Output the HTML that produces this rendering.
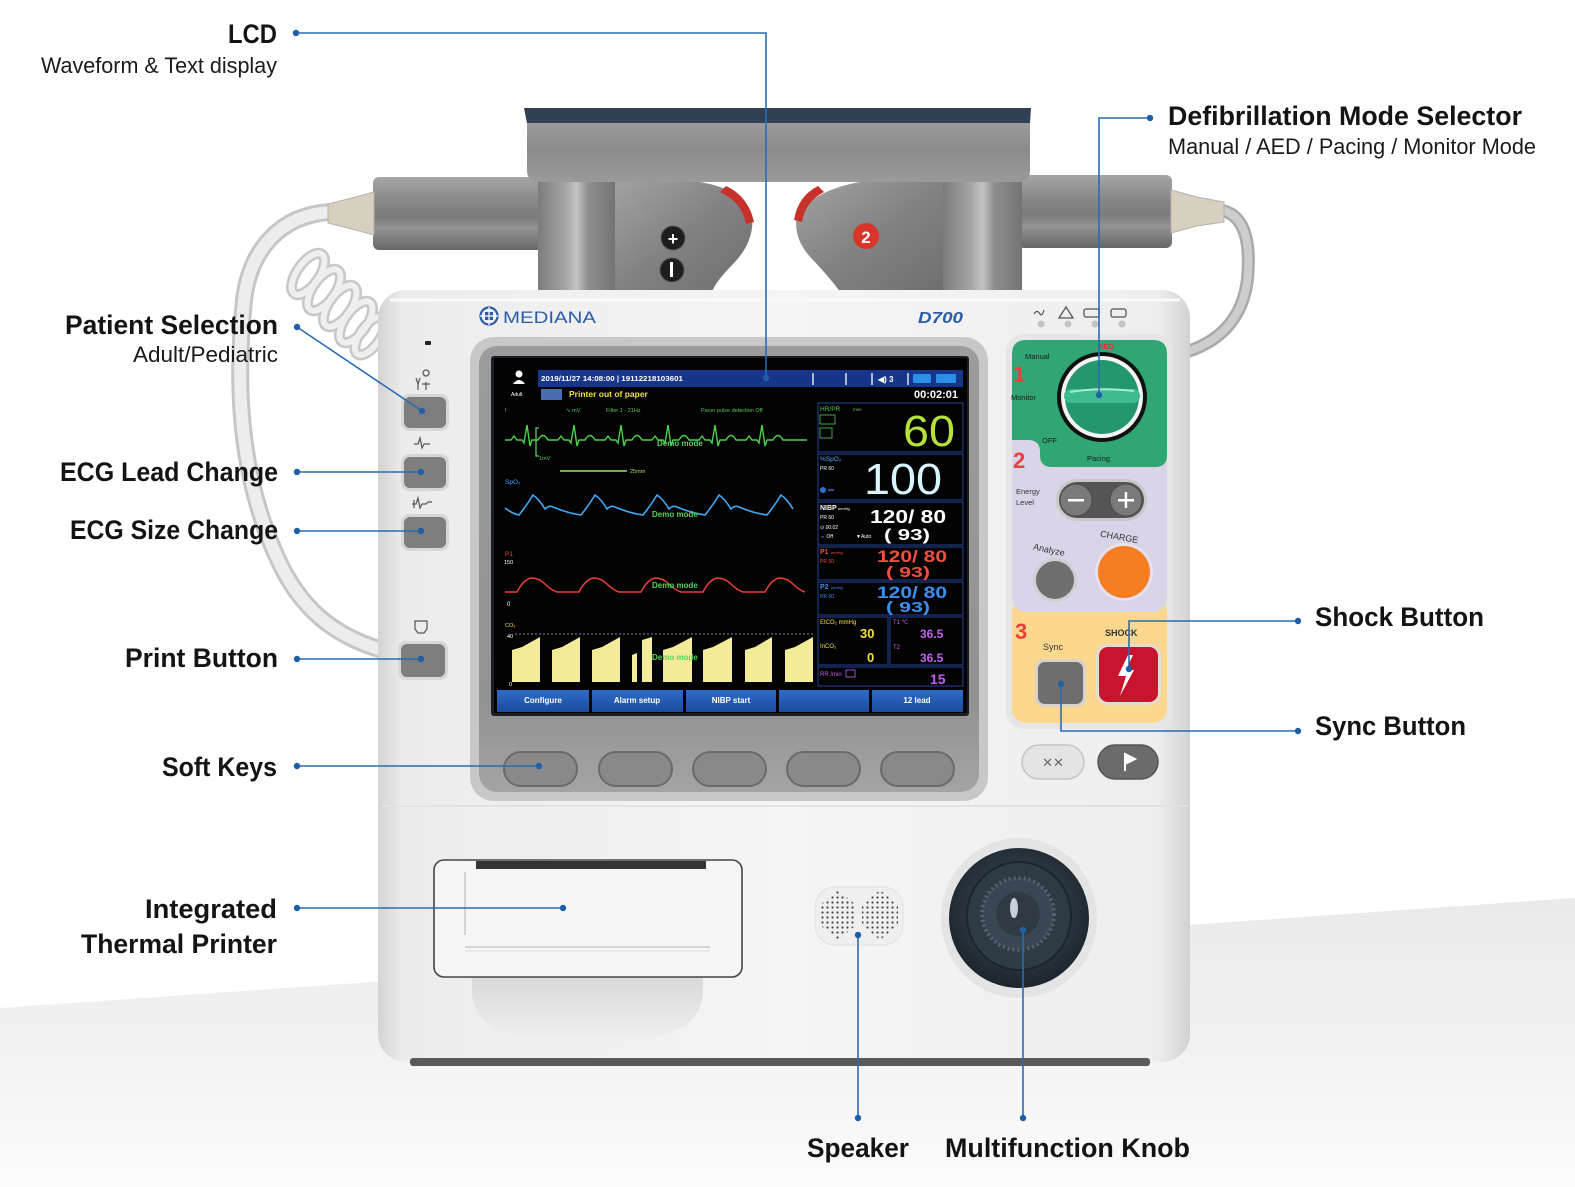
<!DOCTYPE html>
<html><head><meta charset="utf-8">
<style>
html,body{margin:0;padding:0;background:#fff;}
svg{display:block;}
text{font-family:"Liberation Sans",Arial,sans-serif;}
</style></head><body>
<svg width="1575" height="1187" viewBox="0 0 1575 1187" xmlns="http://www.w3.org/2000/svg">
<defs>
<linearGradient id="floor" x1="0" y1="900" x2="0" y2="1187" gradientUnits="userSpaceOnUse">
<stop offset="0" stop-color="#eaeaea"/><stop offset="0.5" stop-color="#f2f2f2"/><stop offset="1" stop-color="#fcfcfc"/></linearGradient>
<linearGradient id="body" x1="378" y1="0" x2="1190" y2="0" gradientUnits="userSpaceOnUse">
<stop offset="0" stop-color="#d4d4d4"/><stop offset="0.03" stop-color="#ececec"/><stop offset="0.5" stop-color="#f5f5f5"/><stop offset="0.96" stop-color="#eeeeee"/><stop offset="1" stop-color="#d2d2d2"/></linearGradient>
<linearGradient id="cyl" x1="0" y1="0" x2="0" y2="1">
<stop offset="0" stop-color="#a6a6a6"/><stop offset="0.3" stop-color="#8a8a8a"/><stop offset="0.55" stop-color="#7b7b7b"/><stop offset="0.7" stop-color="#939393"/><stop offset="1" stop-color="#666"/></linearGradient>
<linearGradient id="post" x1="0" y1="0" x2="1" y2="0">
<stop offset="0" stop-color="#7c7c7c"/><stop offset="0.35" stop-color="#a4a4a4"/><stop offset="0.5" stop-color="#c4c4c4"/><stop offset="0.65" stop-color="#8e8e8e"/><stop offset="1" stop-color="#747474"/></linearGradient>
<linearGradient id="bar" x1="0" y1="0" x2="0" y2="1">
<stop offset="0" stop-color="#9e9e9e"/><stop offset="0.5" stop-color="#8b8b8b"/><stop offset="1" stop-color="#9a9a9a"/></linearGradient>
<linearGradient id="pad" x1="0" y1="0" x2="1" y2="1">
<stop offset="0" stop-color="#a2a2a2"/><stop offset="0.5" stop-color="#828282"/><stop offset="1" stop-color="#6e6e6e"/></linearGradient>
<linearGradient id="bezel" x1="0" y1="0" x2="0" y2="1">
<stop offset="0" stop-color="#9c9c9c"/><stop offset="0.8" stop-color="#929292"/><stop offset="1" stop-color="#a4a4a4"/></linearGradient>
<linearGradient id="soft" x1="0" y1="0" x2="0" y2="1">
<stop offset="0" stop-color="#2e6cc8"/><stop offset="1" stop-color="#1a4c9c"/></linearGradient>
<linearGradient id="cav" x1="0" y1="0" x2="0" y2="1">
<stop offset="0" stop-color="#d8d8d8"/><stop offset="1" stop-color="#f0f0f0"/></linearGradient>
<radialGradient id="knob" cx="0.5" cy="0.45" r="0.55">
<stop offset="0" stop-color="#4a5864"/><stop offset="0.6" stop-color="#2c3842"/><stop offset="1" stop-color="#1c252d"/></radialGradient>
<pattern id="spk" patternUnits="userSpaceOnUse" width="5" height="5"><circle cx="2.5" cy="2.5" r="1.1" fill="#444"/></pattern>
</defs>

<!-- floor -->
<polygon points="0,1008 1575,898 1575,1187 0,1187" fill="url(#floor)"/>

<!-- cables -->
<path d="M330,212 C280,215 250,250 244,300 C236,380 238,470 276,555 C300,610 335,636 382,650" fill="none" stroke="#c6c6c6" stroke-width="18" stroke-linecap="round"/>
<path d="M330,212 C280,215 250,250 244,300 C236,380 238,470 276,555 C300,610 335,636 382,650" fill="none" stroke="#ededed" stroke-width="12" stroke-linecap="round"/>
<g fill="none" stroke="#c8c8c8" stroke-width="11">
<ellipse cx="308" cy="274" rx="24" ry="11" transform="rotate(-55 308 274)"/>
<ellipse cx="324" cy="290" rx="24" ry="11" transform="rotate(-55 324 290)"/>
<ellipse cx="340" cy="306" rx="24" ry="11" transform="rotate(-55 340 306)"/>
<ellipse cx="356" cy="322" rx="24" ry="11" transform="rotate(-55 356 322)"/>
<ellipse cx="370" cy="336" rx="22" ry="10" transform="rotate(-55 370 336)"/>
</g>
<g fill="none" stroke="#efefef" stroke-width="6">
<ellipse cx="308" cy="274" rx="24" ry="11" transform="rotate(-55 308 274)"/>
<ellipse cx="324" cy="290" rx="24" ry="11" transform="rotate(-55 324 290)"/>
<ellipse cx="340" cy="306" rx="24" ry="11" transform="rotate(-55 340 306)"/>
<ellipse cx="356" cy="322" rx="24" ry="11" transform="rotate(-55 356 322)"/>
<ellipse cx="370" cy="336" rx="22" ry="10" transform="rotate(-55 370 336)"/>
</g>
<path d="M1220,210 C1244,214 1250,240 1248,272 C1246,312 1225,340 1186,352" fill="none" stroke="#aaa" stroke-width="13" stroke-linecap="round"/>
<path d="M1220,210 C1244,214 1250,240 1248,272 C1246,312 1225,340 1186,352" fill="none" stroke="#cdcdcd" stroke-width="8" stroke-linecap="round"/>

<!-- cylinders -->
<rect x="373" y="177" width="172" height="73" rx="6" fill="url(#cyl)"/>
<rect x="1018" y="175" width="154" height="73" rx="6" fill="url(#cyl)"/>
<polygon points="374,192 348,199 328,204 328,223 348,228 374,235" fill="#d6d0c2" stroke="#b8b2a4"/>
<polygon points="1171,190 1197,197 1224,202 1224,222 1197,226 1171,233" fill="#d6d0c2" stroke="#b8b2a4"/>

<!-- paddles -->
<path d="M612,182 L700,182 Q745,190 752,215 Q755,240 735,262 Q715,282 712,292 L612,292 Z" fill="url(#pad)"/>
<path d="M726,186 Q748,196 754,222 L746,224 Q742,202 720,192 Z" fill="#c8302a"/>
<path d="M948,182 L860,182 Q815,190 797,215 Q792,240 815,262 Q835,284 840,292 L948,292 Z" fill="url(#pad)"/>
<path d="M818,186 Q798,196 794,220 L802,222 Q805,202 824,192 Z" fill="#c8302a"/>
<circle cx="673" cy="238" r="12" fill="#1e1e1e" stroke="#555"/>
<text x="673" y="245" font-size="18" fill="#fff" text-anchor="middle" font-weight="bold">+</text>
<circle cx="672" cy="270" r="12" fill="#1e1e1e" stroke="#555"/>
<rect x="670" y="262" width="3" height="15" fill="#fff"/>
<circle cx="866" cy="236" r="13" fill="#d8352a"/>
<text x="866" y="243" font-size="17" fill="#fff" text-anchor="middle" font-weight="bold">2</text>

<!-- posts and bar -->
<rect x="538" y="150" width="77" height="142" fill="url(#post)"/>
<rect x="943" y="150" width="79" height="142" fill="url(#post)"/>
<path d="M527,118 H1030 V170 Q1030,182 1018,182 H540 Q527,182 527,170 Z" fill="url(#bar)"/>
<polygon points="524,108 1031,108 1030,123 527,123" fill="#2f4152"/>

<!-- body -->
<rect x="378" y="290" width="812" height="772" rx="28" fill="url(#body)"/>
<rect x="410" y="1058" width="740" height="8" rx="3" fill="#5a5a5a"/>
<line x1="382" y1="806" x2="1188" y2="806" stroke="#e2e2e2" stroke-width="2"/>
<line x1="390" y1="300" x2="1180" y2="300" stroke="#fafafa" stroke-width="3"/>

<!-- logo -->
<circle cx="489" cy="316" r="8.5" fill="none" stroke="#2a5ca8" stroke-width="2.2"/>
<rect x="485" y="312" width="8" height="8" fill="#2a5ca8"/>
<line x1="480" y1="316" x2="498" y2="316" stroke="#fff" stroke-width="1.2"/>
<line x1="489" y1="307" x2="489" y2="325" stroke="#fff" stroke-width="1.2"/>
<text x="503" y="323" font-size="17" fill="#2a5ca8" textLength="93" lengthAdjust="spacingAndGlyphs">MEDIANA</text>
<text x="918" y="323" font-size="16" fill="#2a5ca8" font-weight="bold" font-style="italic" textLength="45" lengthAdjust="spacingAndGlyphs">D700</text>
<rect x="425" y="341" width="6" height="4" rx="1" fill="#222"/>

<!-- indicators -->
<path d="M1034,314 q3,-5 6,0 q2,3 4,-4" fill="none" stroke="#555" stroke-width="1.2"/>
<path d="M1066,307 L1073,318 L1059,318 Z" fill="none" stroke="#555" stroke-width="1.3"/>
<rect x="1084" y="309" width="15" height="8" rx="2" fill="none" stroke="#555" stroke-width="1.3"/>
<rect x="1111" y="309" width="15" height="8" rx="2" fill="none" stroke="#555" stroke-width="1.3"/>
<g fill="#c4c4c4"><circle cx="1041" cy="324" r="3.5"/><circle cx="1068" cy="324" r="3.5"/><circle cx="1095" cy="324" r="3.5"/><circle cx="1122" cy="324" r="3.5"/></g>

<!-- left buttons -->
<g fill="none" stroke="#555" stroke-width="1.2">
<path d="M416,378 l2,6 l2,-6 M418,384 v6 M426,376 a3,3 0 1 1 0.1,0 M426,382 v8 M422,384 l8,0"/>
<path d="M414,444 h4 l2,-6 l2,10 l2,-4 h6"/>
<path d="M412,504 h4 l2,-6 l2,10 l2,-4 h4 l2,-2 h4 M414,500 v8"/>
<path d="M415,621 h12 v8 l-3,4 h-6 l-3,-4 z"/>
</g>
<g>
<rect x="401" y="394" width="48" height="37" rx="8" fill="#d6d6d6"/>
<rect x="404" y="397" width="42" height="31" rx="6" fill="#7e7e7e"/>
<rect x="401" y="454" width="48" height="37" rx="8" fill="#d6d6d6"/>
<rect x="404" y="457" width="42" height="31" rx="6" fill="#7e7e7e"/>
<rect x="401" y="514" width="48" height="37" rx="8" fill="#d6d6d6"/>
<rect x="404" y="517" width="42" height="31" rx="6" fill="#7e7e7e"/>
<rect x="398" y="641" width="50" height="39" rx="8" fill="#d6d6d6"/>
<rect x="401" y="644" width="44" height="33" rx="6" fill="#7e7e7e"/>
</g>

<!-- bezel -->
<rect x="470" y="337" width="518" height="464" rx="24" fill="#c8c8c8"/>
<rect x="479" y="346" width="500" height="446" rx="18" fill="url(#bezel)"/>
<rect x="491" y="356" width="478" height="360" rx="3" fill="#1a1e26"/>
<rect x="494" y="358" width="473" height="355" fill="#030303"/>

<!-- soft keys -->
<g fill="#898989" stroke="#6a6a6a" stroke-width="2">
<rect x="504" y="752" width="73" height="34" rx="17"/>
<rect x="599" y="752" width="73" height="34" rx="17"/>
<rect x="693" y="752" width="73" height="34" rx="17"/>
<rect x="787" y="752" width="73" height="34" rx="17"/>
<rect x="881" y="752" width="73" height="34" rx="17"/>
</g>

<!-- screen header -->
<rect x="538" y="370" width="425" height="17" fill="#17358a"/>
<text x="541" y="381" font-size="7.5" fill="#fff" font-weight="bold" textLength="142" lengthAdjust="spacingAndGlyphs">2019/11/27 14:08:00 | 19112218103601</text>
<g stroke="#fff" stroke-width="1.3"><line x1="813" y1="373" x2="813" y2="385"/><line x1="846" y1="373" x2="846" y2="385"/><line x1="872" y1="373" x2="872" y2="385"/><line x1="908" y1="373" x2="908" y2="385"/></g>
<text x="878" y="382" font-size="8" fill="#fff" font-weight="bold">◀) 3</text>
<rect x="913" y="374" width="18" height="9" rx="1" fill="#2a8fe8"/>
<rect x="936" y="374" width="20" height="9" rx="1" fill="#2a8fe8"/>
<circle cx="519" cy="374" r="3.5" fill="#fff"/>
<path d="M513,384 q6,-8 12,0 z" fill="#fff"/>
<text x="511" y="396" font-size="5" fill="#fff">Adult</text>
<rect x="541" y="389" width="21" height="11" rx="1" fill="#4a6cb0"/>
<text x="569" y="397" font-size="8.5" fill="#f0e040" font-weight="bold">Printer out of paper</text>
<text x="958" y="398" font-size="11" fill="#fff" font-weight="bold" text-anchor="end">00:02:01</text>

<!-- waveform labels -->
<g font-size="5.5" fill="#58c858">
<text x="505" y="412">I</text><text x="566" y="412">∿ mV</text><text x="606" y="412">Filter 1 - 21Hz</text><text x="701" y="412">Pacer pulse detection Off</text>
<text x="539" y="460">1mV</text><text x="630" y="473" fill="#a0e060">25mm</text>
</g>
<path d="M539,428 h-3 v28 h3" fill="none" stroke="#58c858" stroke-width="1.3"/>
<line x1="560" y1="471" x2="627" y2="471" stroke="#a0e060" stroke-width="1.5"/>
<path d="M505,440 l6,0 l3,-4 l3,4 l5,0 l2,3 l3,-18 l3,21 l2,-6 l6,0 q5,-9 10,0 l4,0 l6,0 l3,-4 l3,4 l5,0 l2,3 l3,-18 l3,21 l2,-6 l6,0 q5,-9 10,0 l4,0 l6,0 l3,-4 l3,4 l5,0 l2,3 l3,-18 l3,21 l2,-6 l6,0 q5,-9 10,0 l4,0 l6,0 l3,-4 l3,4 l5,0 l2,3 l3,-18 l3,21 l2,-6 l6,0 q5,-9 10,0 l4,0 l6,0 l3,-4 l3,4 l5,0 l2,3 l3,-18 l3,21 l2,-6 l6,0 q5,-9 10,0 l4,0 l6,0 l3,-4 l3,4 l5,0 l2,3 l3,-18 l3,21 l2,-6 l6,0 q5,-9 10,0 l4,0 l20,0" fill="none" stroke="#4cd04c" stroke-width="1.4"/>
<text x="505" y="484" font-size="6.5" fill="#40a0ff">SpO₂</text>
<path d="M505,508 q8,6 14,7 q8,-10 14,-20 q6,4 12,14 q4,-4 8,-2 q14,6 28,8 q8,-10 14,-20 q6,4 12,14 q4,-4 8,-2 q14,6 28,8 q8,-10 14,-20 q6,4 12,14 q4,-4 8,-2 q14,6 28,8 q8,-10 14,-20 q6,4 12,14 q4,-4 8,-2 q14,6 28,8 q8,-10 14,-20 q6,4 12,14" fill="none" stroke="#3fa9f5" stroke-width="1.6"/>
<text x="505" y="556" font-size="6.5" fill="#f04040">P1</text>
<text x="504" y="564" font-size="5.5" fill="#fff">150</text>
<text x="507" y="606" font-size="6" fill="#fff">0</text>
<path d="M505,592 l12,0 q6,-12 14,-14 q8,0 14,6 q6,6 12,8 l22,0 q6,-12 14,-14 q8,0 14,6 q6,6 12,8 l22,0 q6,-12 14,-14 q8,0 14,6 q6,6 12,8 l22,0 q6,-12 14,-14 q8,0 14,6 q6,6 12,8 l22,0 q6,-12 14,-14 q8,0 14,6 q6,6 12,8" fill="none" stroke="#e8403a" stroke-width="1.5"/>
<text x="505" y="627" font-size="5.5" fill="#f0e040">CO₂</text>
<text x="507" y="638" font-size="5.5" fill="#fff">40</text>
<text x="509" y="686" font-size="5.5" fill="#fff">0</text>
<line x1="515" y1="634" x2="815" y2="634" stroke="#bbb" stroke-width="0.8" stroke-dasharray="2,2"/>
<g fill="#f2ec9a">
<path d="M512,682 V650 L522,647 L540,637 V682 Z"/>
<path d="M552,682 V650 L562,647 L580,637 V682 Z"/>
<path d="M592,682 V650 L602,647 L620,637 V682 Z"/>
<path d="M632,682 V655 L637,653 V682 Z"/>
<path d="M642,682 V640 L652,637 V682 Z"/>
<path d="M663,682 V650 L673,647 L692,637 V682 Z"/>
<path d="M703,682 V650 L713,647 L732,637 V682 Z"/>
<path d="M745,682 V650 L755,647 L772,637 V682 Z"/>
<path d="M785,682 V650 L795,647 L813,637 V682 Z"/>
</g>
<g font-size="8" fill="#5ad05a" font-weight="bold">
<text x="657" y="446">Demo mode</text><text x="652" y="517">Demo mode</text><text x="652" y="588">Demo mode</text><text x="652" y="660">Demo mode</text>
</g>

<!-- right data panel -->
<g fill="none" stroke="#23439a" stroke-width="1">
<rect x="818" y="403" width="145" height="49"/>
<rect x="818" y="454" width="145" height="46"/>
<rect x="818" y="502" width="145" height="43"/>
<rect x="818" y="547" width="145" height="33"/>
<rect x="818" y="582" width="145" height="33"/>
<rect x="818" y="617" width="70" height="48"/>
<rect x="890" y="617" width="73" height="48"/>
<rect x="818" y="667" width="145" height="19"/>
</g>
<text x="820" y="411" font-size="6.5" fill="#58c858">HR/PR</text>
<text x="853" y="411" font-size="4.5" fill="#58c858">/min</text>
<rect x="820" y="415" width="15" height="9" fill="none" stroke="#58c858" stroke-width="0.8"/>
<rect x="820" y="428" width="12" height="10" fill="none" stroke="#58c858" stroke-width="0.8"/>
<text x="903" y="446" font-size="44" fill="#b6e03c" textLength="52" lengthAdjust="spacingAndGlyphs">60</text>
<text x="820" y="461" font-size="6.5" fill="#40b0ff">%SpO₂</text>
<text x="820" y="470" font-size="5" fill="#fff">PR 60</text>
<circle cx="823" cy="490" r="3" fill="#3070d0"/><line x1="828" y1="490" x2="834" y2="490" stroke="#3070d0" stroke-width="1.5"/>
<text x="864" y="494" font-size="44" fill="#d8f4ff" textLength="78" lengthAdjust="spacingAndGlyphs">100</text>
<g font-size="5" fill="#fff">
<text x="820" y="510" font-size="7" font-weight="bold">NIBP</text><text x="838" y="510" font-size="4">mmHg</text>
<text x="820" y="519">PR 60</text><text x="820" y="529">⊙ 00:02</text><text x="820" y="538">⇔ Off</text><text x="856" y="538">▼Auto</text>
</g>
<text x="870" y="523" font-size="18" fill="#fff" font-weight="bold" textLength="76" lengthAdjust="spacingAndGlyphs">120/  80</text>
<text x="884" y="540" font-size="16" fill="#fff" font-weight="bold" textLength="46" lengthAdjust="spacingAndGlyphs">(  93)</text>
<text x="820" y="554" font-size="7" fill="#f05040" font-weight="bold">P1</text><text x="831" y="554" font-size="4" fill="#f05040">mmHg</text>
<text x="820" y="563" font-size="5" fill="#f05040">PR 60</text>
<text x="877" y="562" font-size="17" fill="#f05040" font-weight="bold" textLength="70" lengthAdjust="spacingAndGlyphs">120/  80</text>
<text x="886" y="577" font-size="15" fill="#f05040" font-weight="bold" textLength="44" lengthAdjust="spacingAndGlyphs">(  93)</text>
<text x="820" y="589" font-size="7" fill="#3a90f0" font-weight="bold">P2</text><text x="831" y="589" font-size="4" fill="#3a90f0">mmHg</text>
<text x="820" y="598" font-size="5" fill="#3a90f0">PR 60</text>
<text x="877" y="598" font-size="17" fill="#3a90f0" font-weight="bold" textLength="70" lengthAdjust="spacingAndGlyphs">120/  80</text>
<text x="886" y="612" font-size="15" fill="#3a90f0" font-weight="bold" textLength="44" lengthAdjust="spacingAndGlyphs">(  93)</text>
<text x="820" y="624" font-size="6" fill="#f0e040">EtCO₂ mmHg</text>
<text x="860" y="638" font-size="13" fill="#f0e040" font-weight="bold">30</text>
<text x="820" y="648" font-size="6" fill="#f0e040">InCO₂</text>
<text x="867" y="662" font-size="13" fill="#f0e040" font-weight="bold">0</text>
<text x="893" y="624" font-size="6" fill="#c060f0">T1 ℃</text>
<text x="920" y="638" font-size="12" fill="#c060f0" font-weight="bold">36.5</text>
<text x="893" y="649" font-size="6" fill="#c060f0">T2</text>
<text x="920" y="662" font-size="12" fill="#c060f0" font-weight="bold">36.5</text>
<text x="820" y="676" font-size="6" fill="#c060f0">RR /min</text>
<rect x="846" y="670" width="9" height="7" fill="none" stroke="#c060f0" stroke-width="0.8"/>
<text x="930" y="684" font-size="14" fill="#c060f0" font-weight="bold">15</text>

<!-- soft key bar -->
<g fill="url(#soft)">
<rect x="497" y="690" width="92" height="22"/><rect x="592" y="690" width="91" height="22"/><rect x="686" y="690" width="90" height="22"/><rect x="779" y="690" width="90" height="22"/><rect x="872" y="690" width="91" height="22"/>
</g>
<g font-size="8" fill="#fff" font-weight="bold" text-anchor="middle">
<text x="543" y="703">Configure</text><text x="637" y="703">Alarm setup</text><text x="731" y="703">NIBP start</text><text x="917" y="703">12 lead</text>
</g>

<!-- right control panel -->
<rect x="1006" y="334" width="167" height="395" rx="18" fill="#e6e6e6"/>
<rect x="1012" y="598" width="155" height="125" rx="14" fill="#fbd88e"/>
<rect x="1012" y="430" width="155" height="182" rx="14" fill="#d9d4e8"/>
<path d="M1026,340 H1153 Q1167,340 1167,354 V455 Q1167,467 1155,467 H1052 Q1040,467 1040,455 V452 Q1040,440 1028,440 H1012 V354 Q1012,340 1026,340 Z" fill="#2fa673"/>
<circle cx="1102" cy="397" r="45" fill="#111"/>
<circle cx="1102" cy="397" r="41" fill="#f4f4f4"/>
<circle cx="1102" cy="397" r="37" fill="#24986c"/>
<rect x="1064" y="389" width="76" height="14" rx="7" fill="#3cbc8c"/>
<path d="M1070,392 Q1100,387 1134,391" fill="none" stroke="#a8ecd0" stroke-width="2"/>
<text x="1098" y="349" font-size="7.5" fill="#e03030" font-weight="bold">AED</text>
<text x="1025" y="359" font-size="7.5" fill="#1a1a1a">Manual</text>
<text x="1011" y="400" font-size="7.5" fill="#1a1a1a">Monitor</text>
<text x="1042" y="443" font-size="7.5" fill="#1a1a1a">OFF</text>
<text x="1087" y="461" font-size="7.5" fill="#1a1a1a">Pacing</text>
<text x="1013" y="382" font-size="22" fill="#e8413c" font-weight="bold">1</text>
<text x="1013" y="468" font-size="22" fill="#e8413c" font-weight="bold">2</text>
<text x="1015" y="639" font-size="22" fill="#e8413c" font-weight="bold">3</text>
<text x="1016" y="494" font-size="7.5" fill="#333">Energy</text>
<text x="1016" y="505" font-size="7.5" fill="#333">Level</text>
<rect x="1056" y="479" width="91" height="42" rx="21" fill="#c8c8c8"/>
<rect x="1059" y="482" width="85" height="36" rx="18" fill="#555"/>
<circle cx="1076" cy="500" r="16" fill="#7a7a7a" stroke="#4a4a4a"/>
<circle cx="1126" cy="500" r="16" fill="#7a7a7a" stroke="#4a4a4a"/>
<rect x="1068" y="499" width="16" height="2.5" fill="#fff"/>
<rect x="1118" y="499" width="16" height="2.5" fill="#fff"/><rect x="1124.7" y="492" width="2.5" height="16" fill="#fff"/>
<text x="1033" y="553" font-size="9" fill="#333" transform="rotate(12 1050 550)">Analyze</text>
<circle cx="1055" cy="580" r="22" fill="#cfcfcf"/>
<circle cx="1055" cy="580" r="19" fill="#6e6e6e"/>
<text x="1100" y="540" font-size="9" fill="#333" transform="rotate(10 1120 537)">CHARGE</text>
<circle cx="1124" cy="572" r="29" fill="#e8e0ec"/>
<circle cx="1124" cy="572" r="26" fill="#f57c20"/>
<text x="1043" y="650" font-size="9" fill="#333">Sync</text>
<rect x="1035" y="659" width="51" height="48" rx="9" fill="#d8d2c8"/>
<rect x="1038" y="662" width="45" height="42" rx="7" fill="#6e6e6e"/>
<text x="1105" y="636" font-size="9" fill="#333" font-weight="bold">SHOCK</text>
<rect x="1096" y="644" width="65" height="61" rx="11" fill="#e4dccf"/>
<rect x="1099" y="647" width="59" height="55" rx="9" fill="#c8142c"/>
<polygon points="1128,655 1118,676 1126,676 1120,696 1134,670 1126,670 1133,655" fill="#fff"/>

<!-- bottom panel buttons -->
<rect x="1022" y="745" width="62" height="34" rx="17" fill="#e4e4e4" stroke="#c4c4c4" stroke-width="1.5"/>
<text x="1053" y="767" font-size="13" fill="#666" text-anchor="middle">✕✕</text>
<rect x="1098" y="745" width="60" height="34" rx="17" fill="#6b6b6b" stroke="#555" stroke-width="1.5"/>
<path d="M1125,753 V771 M1125,754 L1135,759 L1125,764 Z" fill="#fff" stroke="#fff" stroke-width="2"/>

<!-- printer -->
<path d="M472,975 V995 Q478,1040 560,1042 H618 Q697,1040 703,995 V975 Z" fill="url(#cav)"/>
<rect x="434" y="860" width="308" height="117" rx="10" fill="#f6f6f6" stroke="#444" stroke-width="1.6"/>
<rect x="476" y="861" width="230" height="8" fill="#333"/>
<line x1="465" y1="872" x2="465" y2="935" stroke="#d4d4d4" stroke-width="2"/>
<line x1="465" y1="947" x2="710" y2="947" stroke="#d4d4d4" stroke-width="2"/>
<line x1="465" y1="951" x2="710" y2="951" stroke="#e6e6e6" stroke-width="1.5"/>

<!-- speaker -->
<rect x="815" y="887" width="88" height="58" rx="20" fill="#efefef" stroke="#e0e0e0"/>
<polygon points="838,890 856,905 856,925 838,940 820,925 820,905" fill="url(#spk)"/>
<polygon points="880,890 898,905 898,925 880,940 862,925 862,905" fill="url(#spk)"/>

<!-- knob -->
<ellipse cx="1019" cy="918" rx="78" ry="80" fill="#e4e4e4"/>
<ellipse cx="1019" cy="918" rx="70" ry="70" fill="url(#knob)"/>
<ellipse cx="1019" cy="916" rx="52" ry="54" fill="#2e3a44" stroke="#1c252d" stroke-width="2"/>
<circle cx="1018" cy="914" r="36" fill="#3a4753" stroke="#55626e" stroke-width="4" stroke-dasharray="2,3"/>
<circle cx="1018" cy="914" r="22" fill="#2f3a44"/>
<ellipse cx="1014" cy="908" rx="4" ry="10" fill="#c8d0d8"/>

<!-- connectors -->
<g fill="none" stroke="#2a6cb0" stroke-width="1.6">
<path d="M296,33 H766 V378"/>
<path d="M1150,118 H1099 V395"/>
<path d="M297,327 L422,411"/>
<path d="M297,472 H421"/>
<path d="M297,531 H421"/>
<path d="M297,659 H421"/>
<path d="M297,766 H539"/>
<path d="M297,908 H563"/>
<path d="M1298,621 H1129 V669"/>
<path d="M1298,731 H1061 V684"/>
<path d="M858,1118 V935"/>
<path d="M1023,1118 V930"/>
</g>
<g fill="#1f5fa5">
<circle cx="296" cy="33" r="3.2"/><circle cx="766" cy="378" r="3.2"/>
<circle cx="1150" cy="118" r="3.2"/><circle cx="1099" cy="395" r="3.2"/>
<circle cx="297" cy="327" r="3.2"/><circle cx="422" cy="411" r="3.2"/>
<circle cx="297" cy="472" r="3.2"/><circle cx="421" cy="472" r="3.2"/>
<circle cx="297" cy="531" r="3.2"/><circle cx="421" cy="531" r="3.2"/>
<circle cx="297" cy="659" r="3.2"/><circle cx="421" cy="659" r="3.2"/>
<circle cx="297" cy="766" r="3.2"/><circle cx="539" cy="766" r="3.2"/>
<circle cx="297" cy="908" r="3.2"/><circle cx="563" cy="908" r="3.2"/>
<circle cx="1298" cy="621" r="3.2"/><circle cx="1129" cy="669" r="3.2"/>
<circle cx="1298" cy="731" r="3.2"/><circle cx="1061" cy="684" r="3.2"/>
<circle cx="858" cy="1118" r="3.2"/><circle cx="858" cy="935" r="3.2"/>
<circle cx="1023" cy="1118" r="3.2"/><circle cx="1023" cy="930" r="3.2"/>
</g>

<!-- labels -->
<g fill="#141414" font-weight="bold" font-size="27">
<text x="228" y="43" textLength="49" lengthAdjust="spacingAndGlyphs">LCD</text>
<text x="1168" y="125" textLength="354" lengthAdjust="spacingAndGlyphs">Defibrillation Mode Selector</text>
<text x="65" y="334" textLength="213" lengthAdjust="spacingAndGlyphs">Patient Selection</text>
<text x="60" y="481" textLength="218" lengthAdjust="spacingAndGlyphs">ECG Lead Change</text>
<text x="70" y="539" textLength="208" lengthAdjust="spacingAndGlyphs">ECG Size Change</text>
<text x="125" y="667" textLength="153" lengthAdjust="spacingAndGlyphs">Print Button</text>
<text x="162" y="776" textLength="115" lengthAdjust="spacingAndGlyphs">Soft Keys</text>
<text x="145" y="918" textLength="132" lengthAdjust="spacingAndGlyphs">Integrated</text>
<text x="81" y="953" textLength="196" lengthAdjust="spacingAndGlyphs">Thermal Printer</text>
<text x="1315" y="626" textLength="169" lengthAdjust="spacingAndGlyphs">Shock Button</text>
<text x="1315" y="735" textLength="151" lengthAdjust="spacingAndGlyphs">Sync Button</text>
<text x="807" y="1157" textLength="102" lengthAdjust="spacingAndGlyphs">Speaker</text>
<text x="945" y="1157" textLength="245" lengthAdjust="spacingAndGlyphs">Multifunction Knob</text>
</g>
<g fill="#1a1a1a" font-size="22">
<text x="41" y="73" textLength="236" lengthAdjust="spacingAndGlyphs">Waveform &amp; Text display</text>
<text x="1168" y="154" textLength="368" lengthAdjust="spacingAndGlyphs">Manual / AED / Pacing / Monitor Mode</text>
<text x="133" y="362" textLength="145" lengthAdjust="spacingAndGlyphs">Adult/Pediatric</text>
</g>
</svg>
</body></html>
